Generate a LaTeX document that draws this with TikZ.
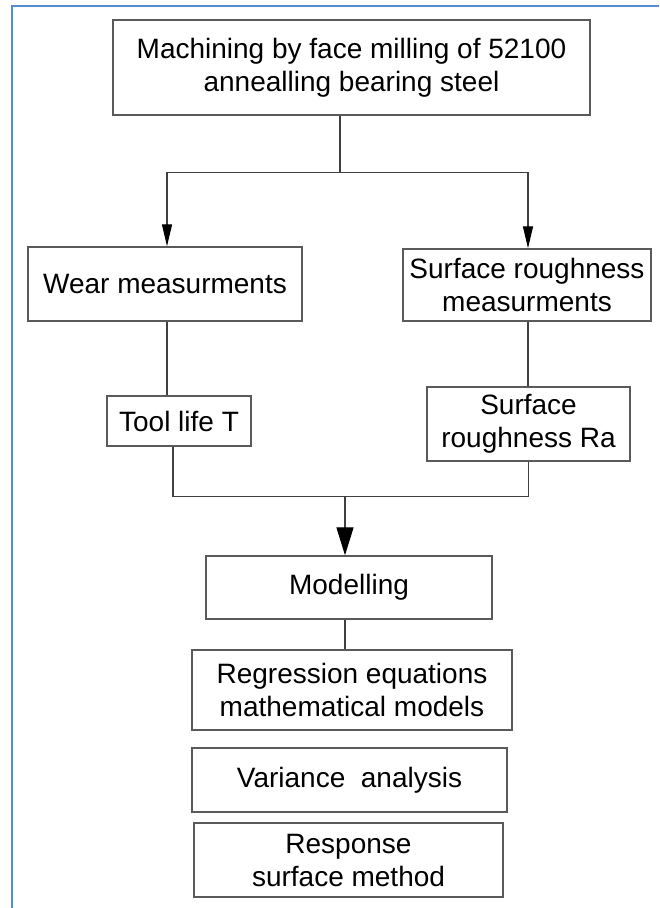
\documentclass[tikz,border=0pt]{standalone}
\usepackage{fontspec}
\setmainfont{Liberation Sans}
\usetikzlibrary{arrows.meta,positioning}

\definecolor{framecolor}{RGB}{84,141,212}
\definecolor{boxgray}{RGB}{90,90,90}

\begin{document}
\begin{tikzpicture}[x=1pt, y=-1pt]
	\tikzstyle{process} = [rectangle, inner sep=0pt, text centered, align=center, 
	draw=boxgray, line width=1.4pt, font=\fontsize{28}{33}\selectfont]
	\tikzstyle{line} = [line width=1.3pt, draw=black!75]
	\tikzstyle{arrow} = [line, -{Triangle[width=10pt,length=22pt,color=black]}]
	\tikzstyle{bigarrow} = [line, -{Triangle[width=17pt,length=28pt,color=black]}]
	\useasboundingbox (0,0) rectangle (659,908);
	\draw [framecolor, line width=1.5pt] (659,6) -- (12,6) -- (12,908);
	\node (machining) [process, minimum width=477pt, minimum height=95pt] at (351.5,67.5) {Machining by face milling of 52100\\annealling bearing steel};
	\node (wear) [process, minimum width=274pt, minimum height=74pt, below of=machining, node distance=216.5pt, xshift=-186.5pt] {Wear measurments};
	\node (surface) [process, minimum width=248pt, minimum height=72pt, below of=machining, node distance=217.5pt, xshift=175.5pt] {Surface roughness\\measurments};
	\node (toollife) [process, minimum width=144pt, minimum height=50pt, below of=wear, node distance=137pt, xshift=14pt] {Tool life T};
	\node (roughness) [process, minimum width=203pt, minimum height=74pt, below of=surface, node distance=139pt, xshift=1.5pt] {Surface\\roughness Ra};
	\node (modelling) [process, minimum width=286pt, minimum height=63pt, below of=machining, node distance=520pt, xshift=-2.5pt] {Modelling};
	\node (regression) [process, minimum width=320pt, minimum height=80pt, below of=modelling, node distance=102.5pt, xshift=3pt] {Regression equations\\mathematical models};
	\node (variance) [process, minimum width=315pt, minimum height=64pt, below of=regression, node distance=90pt, xshift=-2.5pt] {Variance\ \ analysis};
	\node (response) [process, minimum width=309pt, minimum height=74pt, below of=variance, node distance=80pt, xshift=-1pt] {Response\\surface method};
	\coordinate (fork) at ([xshift=-11.5pt, yshift=-57pt]machining.south);
	\coordinate (merge) at ([xshift=-4pt, yshift=59pt]modelling.north);
	\draw [line] (machining.south -| fork) -- (fork);
	\draw [arrow] (fork) -| ([xshift=2pt]wear.north);
	\draw [arrow] (fork) -| ([xshift=1pt]surface.north);
	\draw [line] ([xshift=2pt]wear.south) -- ([xshift=2pt]wear.south |- toollife.north);
	\draw [line] ([xshift=1pt]surface.south) -- ([xshift=1pt]surface.south |- roughness.north);
	\draw [line] ([xshift=-6pt]toollife.south) |- (merge);
	\draw [line] (roughness.south) |- (merge);
	\draw [bigarrow] (merge) -- (modelling.north -| merge);
	\draw [line] (modelling.south -| merge) -- (regression.north -| merge);
\end{tikzpicture}
\end{document}
